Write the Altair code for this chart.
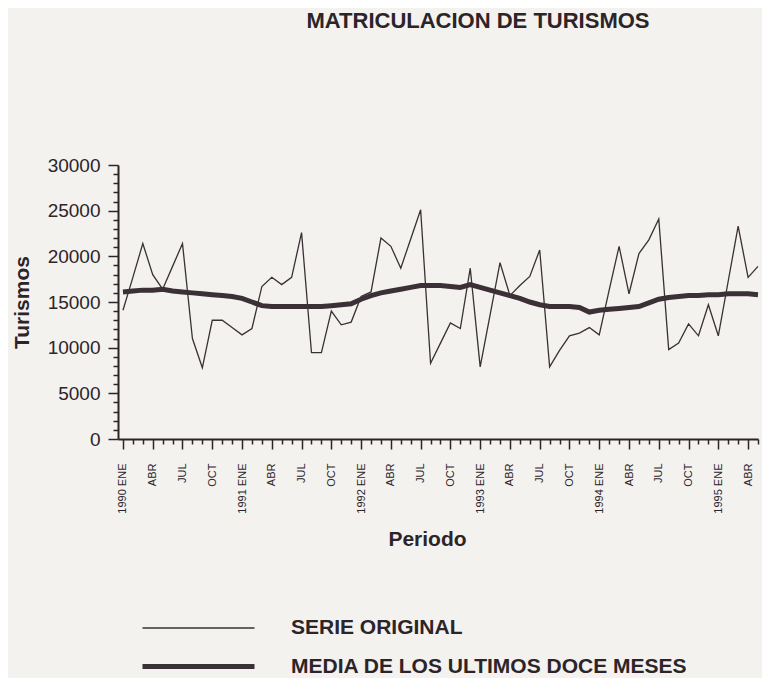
import json
import altair as alt
import pandas as pd

# ---------------- data ----------------
tick_labels = ["1990 ENE", "ABR", "JUL", "OCT",
               "1991 ENE", "ABR", "JUL", "OCT",
               "1992 ENE", "ABR", "JUL", "OCT",
               "1993 ENE", "ABR", "JUL", "OCT",
               "1994 ENE", "ABR", "JUL", "OCT",
               "1995 ENE", "ABR"]

y_ticks = [0, 5000, 10000, 15000, 20000, 25000, 30000]

series_names = ["SERIE ORIGINAL", "MEDIA DE LOS ULTIMOS DOCE MESES"]

serie_original = [
    14100, 17700, 21400, 18000, 16400, 18900, 21400, 11000, 7800, 13000, 13000, 12200,   # 1990
    11400, 12100, 16700, 17700, 16900, 17700, 22600, 9450, 9450, 14000, 12500, 12800,    # 1991
    15600, 16100, 22000, 21100, 18700, 21900, 25100, 8300, 10500, 12700, 12100, 18700,   # 1992
    7900, 13600, 19300, 15700, 16800, 17800, 20700, 7900, 9700, 11300, 11600, 12200,     # 1993
    11400, 16300, 21100, 15900, 20300, 21800, 24100, 9800, 10500, 12600, 11300, 14700,   # 1994
    11300, 17300, 23300, 17700, 18900,                                                   # 1995
]

media_doce_meses = [
    16100, 16200, 16300, 16300, 16400, 16200, 16100, 16000, 15900, 15800, 15700, 15600,
    15400, 15000, 14600, 14500, 14500, 14500, 14500, 14500, 14500, 14600, 14700, 14800,
    15300, 15700, 16000, 16200, 16400, 16600, 16800, 16800, 16800, 16700, 16600, 16900,
    16600, 16300, 16000, 15700, 15400, 15000, 14700, 14500, 14500, 14500, 14400, 13900,
    14100, 14200, 14300, 14400, 14500, 14900, 15300, 15500, 15600, 15700, 15700, 15800,
    15800, 15900, 15900, 15900, 15800,
]

# ---------------- table ----------------
n = len(serie_original)
df = pd.DataFrame({
    "mes": list(range(n)) * 2,
    "valor": serie_original + media_doce_meses,
    "serie": [series_names[0]] * n + [series_names[1]] * n,
})

INK = "#2c2428"
LINE = "#3a3035"
FONT = "Liberation Sans"

x_label_expr = (
    "datum.value % 3 === 0 ? " + json.dumps(tick_labels) + "[datum.value / 3] : ''"
)
y_label_expr = "indexof(" + json.dumps(y_ticks) + ", datum.value) >= 0 ? format(datum.value, 'd') : ''"

x_axis = alt.Axis(
    values=list(range(0, n)),
    labelExpr=x_label_expr,
    labelAngle=-90,
    labelAlign="right",
    labelBaseline="middle",
    labelFontSize=11,
    labelFont=FONT,
    labelColor=INK,
    labelOverlap=False,
    labelFlush=False,
    labelPadding=14,
    tickSize={"condition": {"test": "datum.value % 3 === 0", "value": 10}, "value": 5},
    tickColor=INK,
    tickWidth=1.5,
    domainColor=INK,
    domainWidth=2,
    grid=False,
    title="Periodo",
    titleFont=FONT,
    titleFontSize=21,
    titleFontWeight="bold",
    titleColor=INK,
    titleX=309,
    titleY=106,
    titleBaseline="alphabetic",
)

y_axis = alt.Axis(
    values=list(range(0, 30001, 1000)),
    labelExpr=y_label_expr,
    labelFontSize=19,
    labelFont=FONT,
    labelColor=INK,
    labelOverlap=False,
    labelFlush=False,
    labelPadding=8,
    tickSize={"condition": {"test": "datum.value % 5000 === 0", "value": 10}, "value": 5},
    tickColor=INK,
    tickWidth=1.5,
    domainColor=INK,
    domainWidth=2,
    grid=False,
    title="Turismos",
    titleFont=FONT,
    titleFontSize=21,
    titleFontWeight="bold",
    titleColor=INK,
    titleAngle=-90,
    titleX=-96,
    titleY=137,
    titleAlign="center",
    titleBaseline="middle",
)

chart = (
    alt.Chart(df)
    .mark_line(color=LINE, strokeJoin="miter", strokeCap="butt")
    .encode(
        x=alt.X("mes:Q", scale=alt.Scale(domain=[-0.5, n - 1], nice=False, zero=False), axis=x_axis),
        y=alt.Y("valor:Q", scale=alt.Scale(domain=[0, 30000], nice=False), axis=y_axis),
        strokeWidth=alt.StrokeWidth(
            "serie:N",
            scale=alt.Scale(domain=series_names, range=[1.3, 5]),
            legend=alt.Legend(
                title=None,
                orient="none",
                legendX=64,
                legendY=448,
                direction="vertical",
                symbolType="M-4,0H4",
                symbolSize=784,
                symbolFillColor="transparent",
                symbolStrokeColor=LINE,
                labelFont=FONT,
                labelFontSize=21,
                labelFontWeight="bold",
                labelColor=INK,
                labelOffset=76,
                labelLimit=700,
                rowPadding=12,
            ),
        ),
        detail="serie:N",
    )
    .properties(
        width=640,
        height=274,
        autosize=alt.AutoSizeParams(type="none"),
        padding={"left": 110, "top": 157, "right": 4, "bottom": 239},
        title=alt.TitleParams(
            "MATRICULACION DE TURISMOS",
            font=FONT,
            fontSize=22,
            fontWeight="bold",
            color=INK,
            anchor="middle",
            dx=40,
            offset=123,
        ),
        background="#f3f2ef",
    )
    .configure_view(stroke=None)
)

chart.save("out.html", embed_options={"renderer": "svg", "actions": False})
